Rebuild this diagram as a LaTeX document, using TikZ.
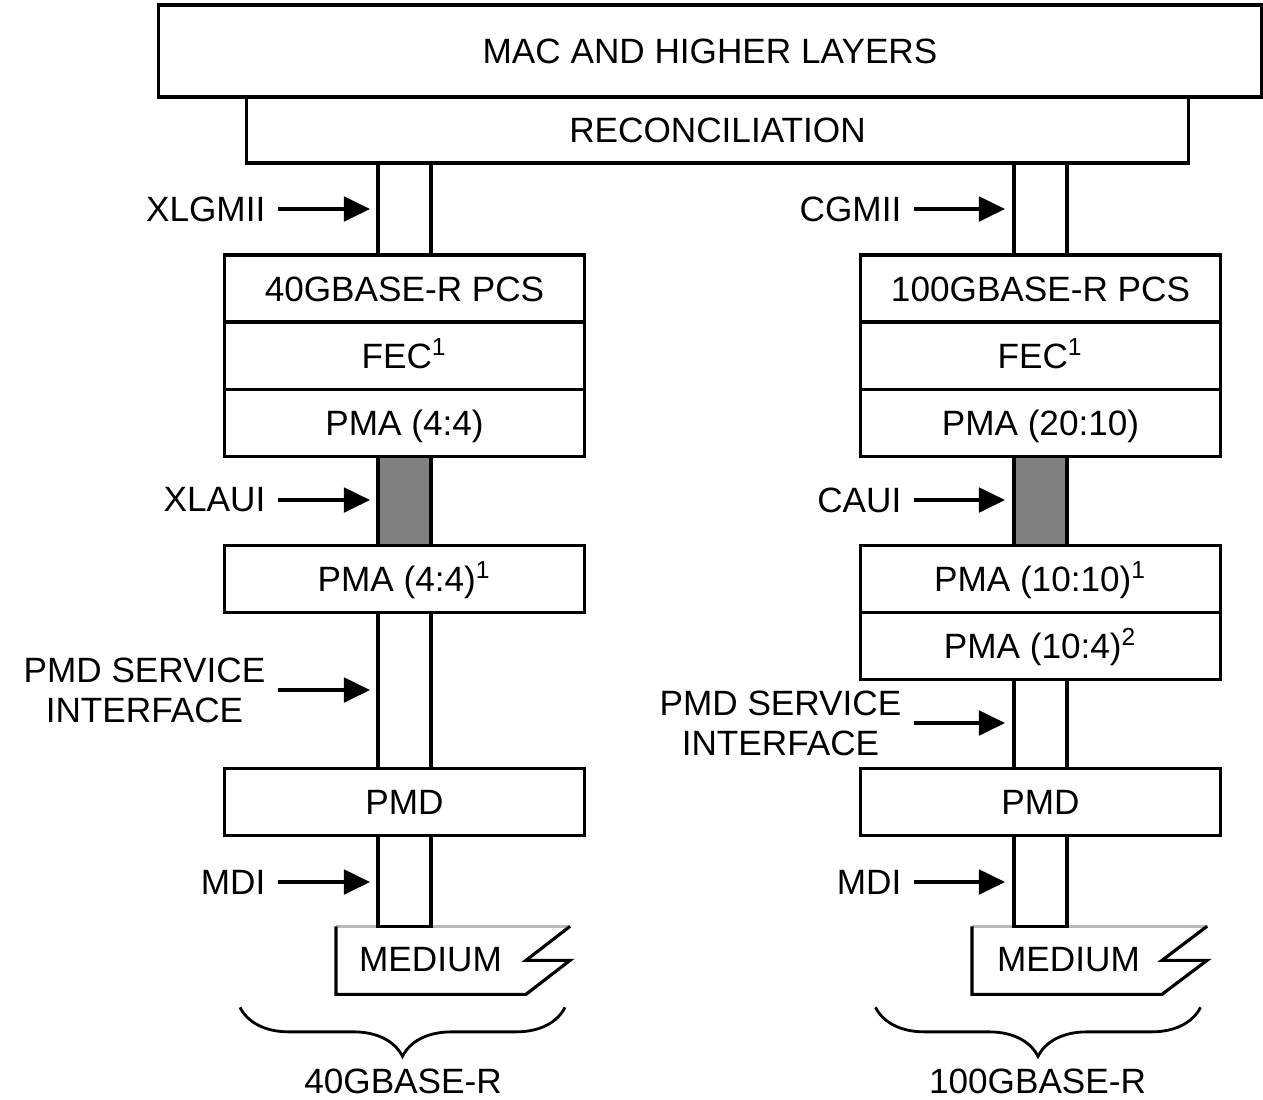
\documentclass[tikz,border=0pt]{standalone}
\usepackage{fontspec}
\setmainfont{Liberation Sans}
\usetikzlibrary{arrows.meta, positioning, calc, decorations.pathreplacing}

\begin{document}
\begin{tikzpicture}[
        x=0.01cm, y=-0.01cm,
        layer/.style={rectangle, draw, line width=0.9pt, minimum width=3.59cm, minimum height=0.67cm, inner sep=0pt, outer sep=0pt, text height=7.2pt, text depth=0pt, text centered, font=\fontsize{10}{12}\selectfont},
        pipe/.style={draw, line width=0.9pt},
        iflabel/.style={anchor=east, align=center, inner xsep=0.12cm, inner ysep=0pt, font=\fontsize{10}{11.4}\selectfont},
        txt/.style={inner sep=0pt, font=\fontsize{10}{12}\selectfont},
        arrow/.style={-{Triangle[length=7.4pt, width=7pt]}, line width=0.9pt},
        medium/.style={line width=0.9pt},
        group/.style={decorate, decoration={brace, mirror, amplitude=0.49cm}, line width=0.8pt}
    ]
        \useasboundingbox (0,0) rectangle (1263,1099);

        \node[layer, minimum width=11.02cm, minimum height=0.92cm] (mac) at (710,51) {MAC AND HIGHER LAYERS};
        \node[layer, minimum width=9.41cm, minimum height=0.66cm] (rec) at (717.5,130) {RECONCILIATION};

        % 40G stack
        \node[layer, anchor=north] (pcsA) at (404.5,255) {40GBASE-R PCS};
        \node[layer, below=0pt of pcsA] (fecA) {FEC\textsuperscript{1}};
        \node[layer, below=0pt of fecA] (pmaA) {PMA (4:4)};
        \node[layer, below=0.89cm of pmaA] (pmbA) {PMA (4:4)\textsuperscript{1}};
        \node[layer, below=1.56cm of pmbA] (pmdA) {PMD};
        \coordinate (medA) at ($(pmdA.south)+(0,91)$);

        % 100G stack
        \node[layer, anchor=north] (pcsB) at (1040.5,255) {100GBASE-R PCS};
        \node[layer, below=0pt of pcsB] (fecB) {FEC\textsuperscript{1}};
        \node[layer, below=0pt of fecB] (pmaB) {PMA (20:10)};
        \node[layer, below=0.89cm of pmaB] (pmbB) {PMA (10:10)\textsuperscript{1}};
        \node[layer, below=0pt of pmbB] (pmcB) {PMA (10:4)\textsuperscript{2}};
        \node[layer, below=0.89cm of pmcB] (pmdB) {PMD};
        \coordinate (medB) at ($(pmdB.south)+(0,91)$);

        % media
        \draw[medium, gray!55] ($(medA)+(-68.5,0)$) -- ++(234,0);
        \draw[medium] ($(medA)+(-68.5,0)$) -- ++(0,68) -- ++(190,0) -- ++(44,-34) -- ++(-44,0) -- ++(44,-34);
        \node[txt] (mtxtA) at ($(medA)+(26,33)$) {MEDIUM};
        \draw[medium, gray!55] ($(medB)+(-68.5,0)$) -- ++(236,0);
        \draw[medium] ($(medB)+(-68.5,0)$) -- ++(0,68) -- ++(190,0) -- ++(45,-34) -- ++(-45,0) -- ++(45,-34);
        \node[txt] (mtxtB) at ($(medB)+(28,33)$) {MEDIUM};

        % pipes
        \draw[pipe] ($(rec.south -| pcsA)+(-26.5,0)$) rectangle ($(pcsA.north)+(26.5,0)$);
        \draw[pipe, fill=black!50] ($(pmaA.south)+(-26.5,0)$) rectangle ($(pmbA.north)+(26.5,0)$);
        \draw[pipe] ($(pmbA.south)+(-26.5,0)$) rectangle ($(pmdA.north)+(26.5,0)$);
        \draw[pipe] ($(pmdA.south)+(-26.5,0)$) rectangle ($(medA)+(26.5,0)$);
        \draw[pipe] ($(rec.south -| pcsB)+(-26.5,0)$) rectangle ($(pcsB.north)+(26.5,0)$);
        \draw[pipe, fill=black!50] ($(pmaB.south)+(-26.5,0)$) rectangle ($(pmbB.north)+(26.5,0)$);
        \draw[pipe] ($(pmcB.south)+(-26.5,0)$) rectangle ($(pmdB.north)+(26.5,0)$);
        \draw[pipe] ($(pmdB.south)+(-26.5,0)$) rectangle ($(medB)+(26.5,0)$);

        % interfaces
        \node[iflabel] (xlgmii) at (278,209) {XLGMII};
        \node[iflabel] (xlaui) at (278,500) {XLAUI};
        \node[iflabel] (psiA) at (278,690) {PMD SERVICE\\INTERFACE};
        \node[iflabel] (mdiA) at (278,882) {MDI};
        \node[iflabel] (cgmii) at (914,209) {CGMII};
        \node[iflabel] (caui) at (914,500) {CAUI};
        \node[iflabel] (psiB) at (914,723) {PMD SERVICE\\INTERFACE};
        \node[iflabel] (mdiB) at (914,882) {MDI};

        \coordinate (xlgmiiE) at (370,209);
        \coordinate (xlauiE) at (370,500);
        \coordinate (psiAE) at (370,690);
        \coordinate (mdiAE) at (370,882);
        \coordinate (cgmiiE) at (1005,209);
        \coordinate (cauiE) at (1005,500);
        \coordinate (psiBE) at (1005,723);
        \coordinate (mdiBE) at (1005,882);

        \draw[arrow] (xlgmii.east) -- (xlgmiiE);
        \draw[arrow] (xlaui.east) -- (xlauiE);
        \draw[arrow] (psiA.east) -- (psiAE);
        \draw[arrow] (mdiA.east) -- (mdiAE);
        \draw[arrow] (cgmii.east) -- (cgmiiE);
        \draw[arrow] (caui.east) -- (cauiE);
        \draw[arrow] (psiB.east) -- (psiBE);
        \draw[arrow] (mdiB.east) -- (mdiBE);

        % braces
        \draw[group] ($(medA)+(-164.5,81)$) -- ($(medA)+(160.5,81)$);
        \draw[group] ($(medB)+(-165,81)$) -- ($(medB)+(160,81)$);
        \node[txt] (baseA) at ($(medA)+(-1.5,155)$) {40GBASE-R};
        \node[txt] (baseB) at ($(medB)+(-3,155)$) {100GBASE-R};

    \end{tikzpicture}
\end{document}
